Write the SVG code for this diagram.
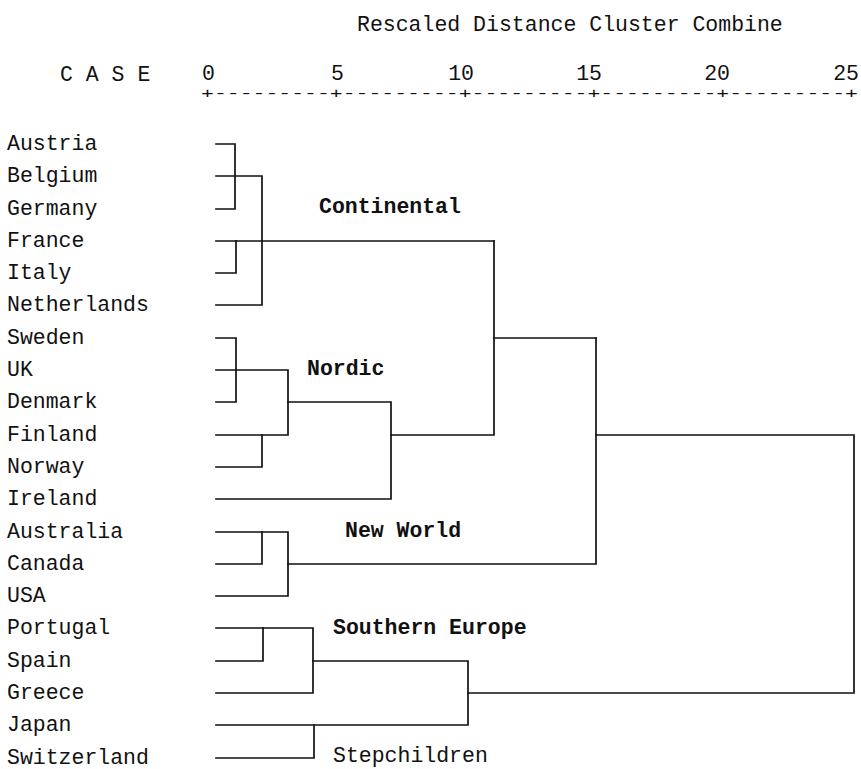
<svg xmlns="http://www.w3.org/2000/svg" width="861" height="769" viewBox="0 0 861 769">
<style>
text{font-family:"Liberation Mono","Courier New",monospace;font-size:21.5px;fill:#111}
.b{font-weight:bold}
.e{text-anchor:end}
.ax{font-size:15px}
.c{fill:none;stroke:#111;stroke-width:1.7;stroke-linecap:square}
</style>
<rect width="861" height="769" fill="#fff"/>
<g id="header">
<text x="357" y="31">Rescaled Distance Cluster Combine</text>
<text x="60" y="81">C A S E</text>
<text class="e" x="215" y="80">0</text>
<text class="e" x="344" y="80">5</text>
<text class="e" x="474" y="80">10</text>
<text class="e" x="602" y="80">15</text>
<text class="e" x="730" y="80">20</text>
<text class="e" x="859" y="80">25</text>
<text class="ax" x="201" y="98" textLength="657" lengthAdjust="spacingAndGlyphs">+---------+---------+---------+---------+---------+</text>
</g>
<g id="leaves">
<g id="n-austria"><text x="7" y="150">Austria</text></g>
<g id="n-belgium"><text x="7" y="182">Belgium</text></g>
<g id="n-germany"><text x="7" y="215">Germany</text></g>
<g id="n-france"><text x="7" y="247">France</text></g>
<g id="n-italy"><text x="7" y="279">Italy</text></g>
<g id="n-netherlands"><text x="7" y="311">Netherlands</text></g>
<g id="n-sweden"><text x="7" y="344">Sweden</text></g>
<g id="n-uk"><text x="7" y="376">UK</text></g>
<g id="n-denmark"><text x="7" y="408">Denmark</text></g>
<g id="n-finland"><text x="7" y="441">Finland</text></g>
<g id="n-norway"><text x="7" y="473">Norway</text></g>
<g id="n-ireland"><text x="7" y="505">Ireland</text></g>
<g id="n-australia"><text x="7" y="538">Australia</text></g>
<g id="n-canada"><text x="7" y="570">Canada</text></g>
<g id="n-usa"><text x="7" y="602">USA</text></g>
<g id="n-portugal"><text x="7" y="634">Portugal</text></g>
<g id="n-spain"><text x="7" y="667">Spain</text></g>
<g id="n-greece"><text x="7" y="699">Greece</text></g>
<g id="n-japan"><text x="7" y="731">Japan</text></g>
<g id="n-switzerland"><text x="7" y="764">Switzerland</text></g>
</g>
<g id="cluster-labels">
<g id="l-continental"><text class="b" x="319" y="213">Continental</text></g>
<g id="l-nordic"><text class="b" x="307" y="375">Nordic</text></g>
<g id="l-newworld"><text class="b" x="345" y="537">New World</text></g>
<g id="l-southern"><text class="b" x="333" y="634">Southern Europe</text></g>
<g id="l-step"><text x="333" y="762">Stepchildren</text></g>
</g>
<g id="connectors" class="c">
<path class="c" d="M216 144H235V209M216 209H235"/>
<path class="c" d="M216 176H262V305H216"/>
<path class="c" d="M216 241H494"/>
<path class="c" d="M216 273H236V241"/>
<path class="c" d="M494 241V435H391"/>
<path class="c" d="M494 338H596"/>
<path class="c" d="M216 338H236V402H216"/>
<path class="c" d="M216 370H288V435H216"/>
<path class="c" d="M216 467H262V435"/>
<path class="c" d="M288 402H391V499H216"/>
<path class="c" d="M216 532H288V596H216"/>
<path class="c" d="M216 564H262V532"/>
<path class="c" d="M288 564H596V338"/>
<path class="c" d="M596 435H854V693H468"/>
<path class="c" d="M216 628H313V693H216"/>
<path class="c" d="M216 661H263V628"/>
<path class="c" d="M313 661H468V725H216"/>
<path class="c" d="M216 758H314V725"/>
</g>
</svg>
